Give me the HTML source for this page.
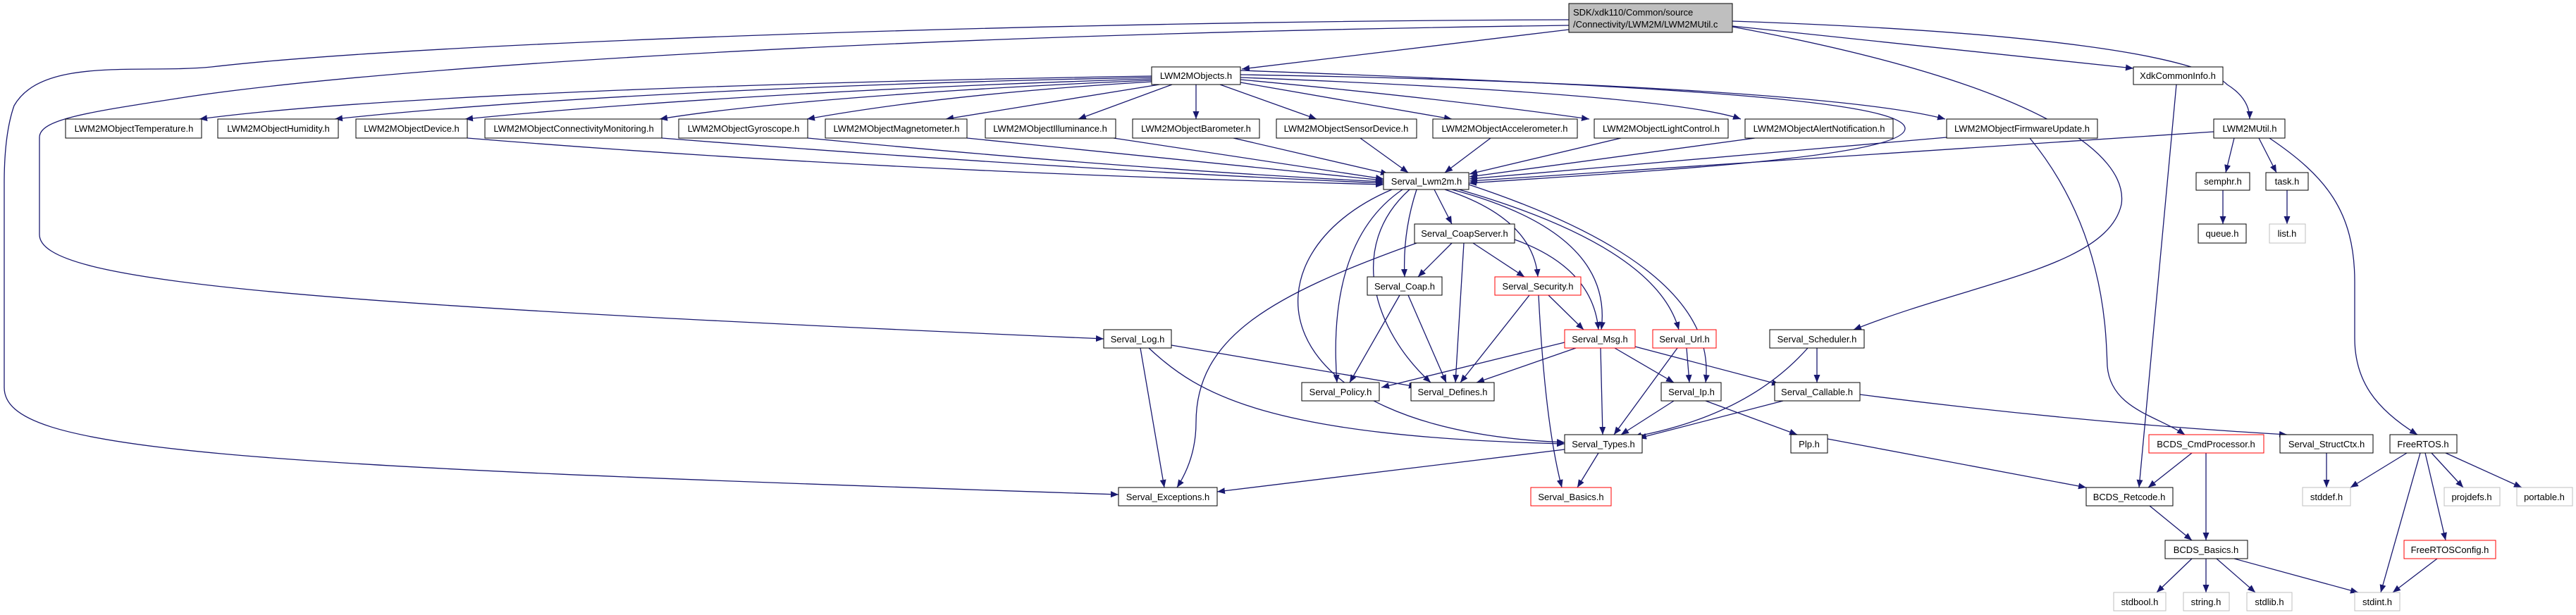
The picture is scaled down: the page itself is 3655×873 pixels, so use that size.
<!DOCTYPE html>
<html><head><meta charset="utf-8"><style>
html,body{margin:0;padding:0;background:#fff;}
svg{display:block;}
text{font-family:"Liberation Sans",sans-serif;font-size:13px;fill:#000;text-anchor:middle;}
.e{fill:none;stroke:#191970;stroke-width:1.3;marker-end:url(#a);}
.n rect{fill:#fff;stroke:#000;stroke-width:1;}
.r rect{fill:#fff;stroke:#ff0000;stroke-width:1;}
.g rect{fill:#fff;stroke:#bfbfbf;stroke-width:1;}
</style></head><body>
<svg width="3655" height="873" viewBox="0 0 3655 873" xmlns="http://www.w3.org/2000/svg">
<defs><marker id="a" markerUnits="userSpaceOnUse" markerWidth="12" markerHeight="10" refX="11" refY="4.5" orient="auto"><path d="M0,0 L11,4.5 L0,9 Z" fill="#191970"/></marker></defs>

<!-- edges -->
<path class="e" d="M2226,42 L1762,98"/>
<path class="e" d="M2458,37 L3027,97"/>
<path class="e" d="M2458,30 C2900,45 3120,80 3160,120 Q3192,140 3192,169"/>
<path class="e" d="M2458,38 C2900,120 3020,220 3010,290 C2990,380 2800,400 2630,468"/>
<path class="e" d="M2226,28 C1500,30 600,60 300,95 C200,105 60,80 20,150 Q6,190 6,260 L6,550 C6,640 300,660 1587,702"/>
<path class="e" d="M2226,36 C1200,50 500,100 250,140 C120,160 56,170 56,195 L56,333 C56,400 400,430 1566,481"/>
<path class="e" d="M1760,100 C2300,120 2700,140 2703,182 C2705,225 2300,245 2084,260"/>

<path class="e" d="M1634,108 C1000,118 500,140 283,169"/>
<path class="e" d="M1634,110 C1100,120 700,145 475,169"/>
<path class="e" d="M1634,112 C1200,125 850,150 660,169"/>
<path class="e" d="M1634,114 C1300,128 1050,150 936,169"/>
<path class="e" d="M1634,116 C1400,130 1250,150 1145,169"/>
<path class="e" d="M1645,120 L1342,169"/>
<path class="e" d="M1663,120 L1530,169"/>
<path class="e" d="M1697,120 L1697,169"/>
<path class="e" d="M1731,120 L1868,169"/>
<path class="e" d="M1760,117 L2060,169"/>
<path class="e" d="M1760,113 Q2050,140 2255,169"/>
<path class="e" d="M1760,110 C2150,125 2400,145 2470,169"/>
<path class="e" d="M1760,106 C2300,115 2650,140 2760,169"/>

<path class="e" d="M663,196 C1200,240 1700,255 1963,262"/>
<path class="e" d="M939,196 Q1500,240 1963,260"/>
<path class="e" d="M1146,196 Q1600,240 1963,258"/>
<path class="e" d="M1372,196 L1963,256"/>
<path class="e" d="M1580,196 L1963,254"/>
<path class="e" d="M1750,196 L1970,247"/>
<path class="e" d="M1930,196 L1998,245"/>
<path class="e" d="M2115,196 L2050,245"/>
<path class="e" d="M2300,196 L2085,247"/>
<path class="e" d="M2490,196 L2085,251"/>
<path class="e" d="M2762,195 L2085,254"/>
<path class="e" d="M3141,187 L2085,257"/>

<path class="e" d="M3170,196 L3158,245"/>
<path class="e" d="M3205,196 L3230,245"/>
<path class="e" d="M3220,196 C3300,250 3341,300 3341,400 L3341,480 C3341,540 3370,580 3430,617"/>
<path class="e" d="M3154,270 L3154,318"/>
<path class="e" d="M3245,270 L3245,318"/>

<path class="e" d="M1975,269 C1760,360 1780,610 2220,628"/>
<path class="e" d="M1990,269 C1900,330 1890,450 1897,543"/>
<path class="e" d="M2000,269 C1910,350 1950,470 2030,543"/>
<path class="e" d="M2010,269 Q1990,330 1993,393"/>
<path class="e" d="M2035,269 L2060,318"/>
<path class="e" d="M2050,269 Q2175,310 2182,393"/>
<path class="e" d="M2060,269 Q2290,330 2272,468"/>
<path class="e" d="M2070,269 Q2350,350 2382,468"/>
<path class="e" d="M2084,262 Q2440,380 2420,543"/>

<path class="e" d="M2010,345 C1800,420 1697,480 1697,600 Q1697,650 1670,692"/>
<path class="e" d="M2060,345 L2012,393"/>
<path class="e" d="M2077,345 L2065,543"/>
<path class="e" d="M2090,345 L2163,393"/>
<path class="e" d="M2149,340 Q2260,380 2268,468"/>

<path class="e" d="M1986,419 L1915,543"/>
<path class="e" d="M1998,419 L2052,543"/>
<path class="e" d="M2197,419 L2247,468"/>
<path class="e" d="M2170,419 L2072,543"/>
<path class="e" d="M2183,419 Q2192,600 2216,692"/>

<path class="e" d="M2220,486 L1960,550"/>
<path class="e" d="M2236,494 L2095,543"/>
<path class="e" d="M2291,494 L2375,543"/>
<path class="e" d="M2271,494 L2274,617"/>
<path class="e" d="M2320,492 L2525,546"/>
<path class="e" d="M2393,494 L2397,543"/>
<path class="e" d="M2380,494 L2290,617"/>

<path class="e" d="M1662,490 L2010,549"/>
<path class="e" d="M1630,494 C1700,560 1800,620 2220,630"/>
<path class="e" d="M1618,494 L1652,692"/>

<path class="e" d="M2375,569 L2300,617"/>
<path class="e" d="M2420,569 L2550,617"/>
<path class="e" d="M2578,494 L2578,543"/>
<path class="e" d="M2565,494 Q2480,590 2318,620"/>
<path class="e" d="M2530,569 L2325,622"/>
<path class="e" d="M2639,560 Q2950,600 3245,617"/>

<path class="e" d="M2220,638 L1727,698"/>
<path class="e" d="M2268,643 L2238,692"/>
<path class="e" d="M2593,623 L2960,692"/>
<path class="e" d="M2880,196 C2990,330 2988,480 2990,520 C2995,580 3060,590 3100,617"/>
<path class="e" d="M3088,120 L3035,692"/>
<path class="e" d="M3110,643 L3048,692"/>
<path class="e" d="M3130,643 L3130,767"/>
<path class="e" d="M3050,718 L3110,767"/>
<path class="e" d="M3110,793 L3060,841"/>
<path class="e" d="M3130,793 L3130,841"/>
<path class="e" d="M3145,793 L3200,841"/>
<path class="e" d="M3170,793 L3346,841"/>
<path class="e" d="M3301,643 L3301,692"/>
<path class="e" d="M3415,643 L3335,692"/>
<path class="e" d="M3434,643 L3378,841"/>
<path class="e" d="M3441,643 L3470,767"/>
<path class="e" d="M3450,643 L3495,692"/>
<path class="e" d="M3470,643 L3578,692"/>
<path class="e" d="M3458,793 L3395,841"/>

<!-- nodes -->
<g class="n"><rect x="2226" y="5" width="232" height="41" style="fill:#bfbfbf"/><text x="2232" y="22" style="text-anchor:start">SDK/xdk110/Common/source</text><text x="2232" y="39" style="text-anchor:start">/Connectivity/LWM2M/LWM2MUtil.c</text></g>
<g class="n"><rect x="1634" y="95" width="126" height="25"/><text x="1697" y="112">LWM2MObjects.h</text></g>
<g class="n"><rect x="3027" y="95" width="127" height="25"/><text x="3090" y="112">XdkCommonInfo.h</text></g>

<g class="n"><rect x="93" y="169" width="193" height="27"/><text x="190" y="187">LWM2MObjectTemperature.h</text></g>
<g class="n"><rect x="309" y="169" width="171" height="27"/><text x="395" y="187">LWM2MObjectHumidity.h</text></g>
<g class="n"><rect x="505" y="169" width="158" height="27"/><text x="584" y="187">LWM2MObjectDevice.h</text></g>
<g class="n"><rect x="688" y="169" width="251" height="27"/><text x="814" y="187">LWM2MObjectConnectivityMonitoring.h</text></g>
<g class="n"><rect x="963" y="169" width="183" height="27"/><text x="1055" y="187">LWM2MObjectGyroscope.h</text></g>
<g class="n"><rect x="1171" y="169" width="201" height="27"/><text x="1272" y="187">LWM2MObjectMagnetometer.h</text></g>
<g class="n"><rect x="1398" y="169" width="185" height="27"/><text x="1490" y="187">LWM2MObjectIlluminance.h</text></g>
<g class="n"><rect x="1607" y="169" width="180" height="27"/><text x="1697" y="187">LWM2MObjectBarometer.h</text></g>
<g class="n"><rect x="1811" y="169" width="199" height="27"/><text x="1910" y="187">LWM2MObjectSensorDevice.h</text></g>
<g class="n"><rect x="2033" y="169" width="205" height="27"/><text x="2135" y="187">LWM2MObjectAccelerometer.h</text></g>
<g class="n"><rect x="2262" y="169" width="190" height="27"/><text x="2357" y="187">LWM2MObjectLightControl.h</text></g>
<g class="n"><rect x="2476" y="169" width="210" height="27"/><text x="2581" y="187">LWM2MObjectAlertNotification.h</text></g>
<g class="n"><rect x="2762" y="169" width="214" height="27"/><text x="2869" y="187">LWM2MObjectFirmwareUpdate.h</text></g>
<g class="n"><rect x="3141" y="169" width="101" height="27"/><text x="3192" y="187">LWM2MUtil.h</text></g>

<g class="n"><rect x="1963" y="245" width="121" height="24"/><text x="2024" y="262">Serval_Lwm2m.h</text></g>
<g class="n"><rect x="3116" y="245" width="76" height="25"/><text x="3154" y="262">semphr.h</text></g>
<g class="n"><rect x="3215" y="245" width="60" height="25"/><text x="3245" y="262">task.h</text></g>

<g class="n"><rect x="2007" y="318" width="142" height="27"/><text x="2078" y="336">Serval_CoapServer.h</text></g>
<g class="n"><rect x="3119" y="318" width="68" height="27"/><text x="3153" y="336">queue.h</text></g>
<g class="g"><rect x="3220" y="318" width="51" height="27"/><text x="3245" y="336">list.h</text></g>

<g class="n"><rect x="1940" y="393" width="106" height="26"/><text x="1993" y="411">Serval_Coap.h</text></g>
<g class="r"><rect x="2121" y="393" width="122" height="26"/><text x="2182" y="411">Serval_Security.h</text></g>

<g class="n"><rect x="1566" y="468" width="96" height="26"/><text x="1614" y="486">Serval_Log.h</text></g>
<g class="r"><rect x="2220" y="468" width="100" height="26"/><text x="2270" y="486">Serval_Msg.h</text></g>
<g class="r"><rect x="2345" y="468" width="90" height="26"/><text x="2390" y="486">Serval_Url.h</text></g>
<g class="n"><rect x="2511" y="468" width="134" height="26"/><text x="2578" y="486">Serval_Scheduler.h</text></g>

<g class="n"><rect x="1847" y="543" width="110" height="26"/><text x="1902" y="561">Serval_Policy.h</text></g>
<g class="n"><rect x="2002" y="543" width="118" height="26"/><text x="2061" y="561">Serval_Defines.h</text></g>
<g class="n"><rect x="2357" y="543" width="85" height="26"/><text x="2400" y="561">Serval_Ip.h</text></g>
<g class="n"><rect x="2518" y="543" width="121" height="26"/><text x="2578" y="561">Serval_Callable.h</text></g>

<g class="n"><rect x="2220" y="617" width="110" height="26"/><text x="2275" y="635">Serval_Types.h</text></g>
<g class="n"><rect x="2541" y="617" width="52" height="26"/><text x="2567" y="635">Plp.h</text></g>
<g class="r"><rect x="3049" y="617" width="163" height="26"/><text x="3130" y="635">BCDS_CmdProcessor.h</text></g>
<g class="n"><rect x="3235" y="617" width="132" height="26"/><text x="3301" y="635">Serval_StructCtx.h</text></g>
<g class="n"><rect x="3391" y="617" width="95" height="26"/><text x="3438" y="635">FreeRTOS.h</text></g>

<g class="n"><rect x="1587" y="692" width="140" height="26"/><text x="1657" y="710">Serval_Exceptions.h</text></g>
<g class="r"><rect x="2172" y="692" width="114" height="26"/><text x="2229" y="710">Serval_Basics.h</text></g>
<g class="n"><rect x="2960" y="692" width="123" height="26"/><text x="3021" y="710">BCDS_Retcode.h</text></g>
<g class="g"><rect x="3267" y="692" width="68" height="26"/><text x="3301" y="710">stddef.h</text></g>
<g class="g"><rect x="3468" y="692" width="79" height="26"/><text x="3507" y="710">projdefs.h</text></g>
<g class="g"><rect x="3571" y="692" width="79" height="26"/><text x="3610" y="710">portable.h</text></g>

<g class="n"><rect x="3072" y="767" width="117" height="26"/><text x="3130" y="785">BCDS_Basics.h</text></g>
<g class="r"><rect x="3411" y="767" width="130" height="26"/><text x="3476" y="785">FreeRTOSConfig.h</text></g>

<g class="g"><rect x="2999" y="841" width="74" height="26"/><text x="3036" y="859">stdbool.h</text></g>
<g class="g"><rect x="3098" y="841" width="65" height="26"/><text x="3130" y="859">string.h</text></g>
<g class="g"><rect x="3188" y="841" width="64" height="26"/><text x="3220" y="859">stdlib.h</text></g>
<g class="g"><rect x="3341" y="841" width="64" height="26"/><text x="3373" y="859">stdint.h</text></g>
</svg>
</body></html>
